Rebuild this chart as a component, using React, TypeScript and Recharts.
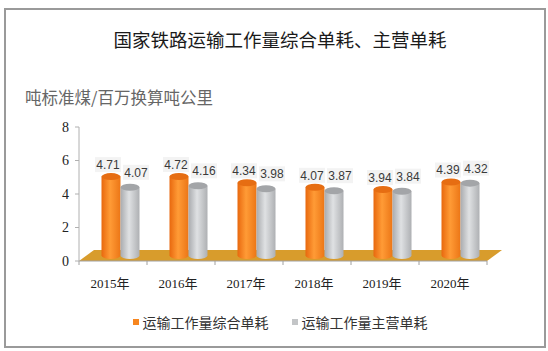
import { BarChart, Bar, XAxis, YAxis, ReferenceArea, LabelList } from "recharts"

// 国家铁路运输工作量综合单耗、主营单耗 (吨标准煤/百万换算吨公里)
const years = ["2015年", "2016年", "2017年", "2018年", "2019年", "2020年"]
const zongheDanhao = [4.71, 4.72, 4.34, 4.07, 3.94, 4.39]
const zhuyingDanhao = [4.07, 4.16, 3.98, 3.87, 3.84, 4.32]
const yTicks = [0, 2, 4, 6, 8]

const data = years.map((year, i) => ({
  year,
  zonghe: zongheDanhao[i],
  zhuying: zhuyingDanhao[i],
}))

const ORANGE = "#f7861f"
const GRAY = "#c3c5c7"
const DEPTH_X = 15
const DEPTH_Y = 11

function Cylinder(props: any) {
  const { x, y, width, height, kind } = props
  const dx = DEPTH_X / 2
  const dy = DEPTH_Y / 2
  const left = x + dx
  const top = y - dy
  const bottom = y + height - dy
  const rx = width / 2
  const ry = 3.5
  const id = kind === "o" ? "gradO" : "gradG"
  const topFill = kind === "o" ? "#e66d12" : "#a3a5a8"
  return (
    <g>
      <path
        d={`M${left},${top} L${left},${bottom} A${rx},${ry} 0 0 0 ${left + width},${bottom} L${left + width},${top} Z`}
        fill={`url(#${id})`}
      />
      <ellipse cx={left + rx} cy={top} rx={rx} ry={ry} fill={topFill} />
    </g>
  )
}

function Floor(props: any) {
  const { x, y, width, height } = props
  const b = y + height
  return (
    <polygon
      points={`${x},${b} ${x + width},${b} ${x + width + DEPTH_X},${b - DEPTH_Y} ${x + DEPTH_X},${b - DEPTH_Y}`}
      fill="#d89c2c"
    />
  )
}

function makeLabel(dxOff: number, dyOff: number) {
  return (props: any) => {
    const { x, y, width, value } = props
    const cx = x + width / 2 + DEPTH_X / 2 + dxOff
    const cy = y - DEPTH_Y / 2 + dyOff
    const txt = Number(value).toFixed(2)
    return (
      <g>
        <rect x={cx - 13} y={cy - 7.5} width={26} height={15} fill="#f3f3f3" />
        <text x={cx} y={cy + 4.5} textAnchor="middle" fontSize={12} fill="#3a3a3a"
          fontFamily="'Liberation Sans', Arial, sans-serif">
          {txt}
        </text>
      </g>
    )
  }
}

function YearTick(props: any) {
  const { x, y, payload, index, visibleTicksCount, width } = props
  const step = width / visibleTicksCount
  return (
    <g>
      <line x1={x - step / 2} y1={y - 8} x2={x - step / 2} y2={y - 4} stroke="#a0a0a0" />
      {index === visibleTicksCount - 1 && (
        <line x1={x + step / 2} y1={y - 8} x2={x + step / 2} y2={y - 4} stroke="#a0a0a0" />
      )}
      <text x={x - 3} y={y + 19} textAnchor="middle" fontSize={13} fill="#222"
        fontFamily="'Liberation Serif', 'Noto Sans CJK SC', serif">
        {payload.value}
      </text>
    </g>
  )
}

const legendItems = [
  { label: "运输工作量综合单耗", color: ORANGE },
  { label: "运输工作量主营单耗", color: GRAY },
]

export default function App() {
  return (
    <div style={{ position: "absolute", left: 0, top: 0, width: 548, height: 351, background: "#fff" }}>
      <div
        style={{
          position: "absolute", left: 4, top: 8, width: 538, height: 336,
          border: "2px solid #9a9a9a", boxSizing: "content-box",
        }}
      />
      <div
        style={{
          position: "absolute", left: 0, top: 27, width: 560, textAlign: "center",
          fontSize: 18.5, color: "#1a1a1a", fontFamily: "'Noto Sans CJK SC', sans-serif", lineHeight: "24px",
        }}
      >
        国家铁路运输工作量综合单耗、主营单耗
      </div>
      <div
        style={{
          position: "absolute", left: 25, top: 87, fontSize: 16.5, color: "#666",
          fontFamily: "'Noto Sans CJK SC', sans-serif", lineHeight: "20px",
        }}
      >
        吨标准煤/百万换算吨公里
      </div>
      <div style={{ position: "absolute", left: 0, top: 0 }}>
        <svg width={0} height={0} style={{ position: "absolute" }}>
          <defs>
            <linearGradient id="gradO" x1="0" y1="0" x2="1" y2="0">
              <stop offset="0%" stopColor="#e8680e" />
              <stop offset="45%" stopColor="#ff9b36" />
              <stop offset="100%" stopColor="#ec7616" />
            </linearGradient>
            <linearGradient id="gradG" x1="0" y1="0" x2="1" y2="0">
              <stop offset="0%" stopColor="#a9abae" />
              <stop offset="45%" stopColor="#dfe1e3" />
              <stop offset="100%" stopColor="#aeb0b3" />
            </linearGradient>
          </defs>
        </svg>
        <BarChart
          width={548}
          height={351}
          data={data}
          margin={{ top: 127, right: 61, bottom: 50, left: 39 }}
          barSize={19}
          barGap={0}
        >
          <XAxis
            dataKey="year"
            axisLine={{ stroke: "#a0a0a0" }}
            tickLine={false}
            tick={<YearTick />}
            interval={0}
            height={40}
          />
          <YAxis
            domain={[0, 8]}
            ticks={yTicks}
            width={40}
            tickSize={4}
            axisLine={{ stroke: "#b0b0b0" }}
            tickLine={{ stroke: "#b0b0b0" }}
            tick={{ fontSize: 14, fill: "#222", fontFamily: "'Liberation Serif', serif" }}
            tickMargin={6}
          />
          <ReferenceArea y1={0} y2={0.66} shape={<Floor />} ifOverflow="visible" />
          <Bar dataKey="zonghe" name="运输工作量综合单耗" fill={ORANGE} isAnimationActive={false}
            shape={(p: any) => <Cylinder {...p} kind="o" />}>
            <LabelList dataKey="zonghe" content={makeLabel(-3, -12)} />
          </Bar>
          <Bar dataKey="zhuying" name="运输工作量主营单耗" fill={GRAY} isAnimationActive={false}
            shape={(p: any) => <Cylinder {...p} kind="g" />}>
            <LabelList dataKey="zhuying" content={makeLabel(6, -15)} />
          </Bar>
        </BarChart>
      </div>
      <div
        style={{
          position: "absolute", top: 314, left: 6, width: 548,
          display: "flex", justifyContent: "center", gap: 23,
        }}
      >
        {legendItems.map((it) => (
          <div key={it.label} style={{ display: "flex", alignItems: "center" }}>
            <span style={{ width: 6, height: 6, background: it.color, marginRight: 4, display: "inline-block" }} />
            <span style={{ fontSize: 14, color: "#333", fontFamily: "'Noto Sans CJK SC', sans-serif", lineHeight: "16px" }}>
              {it.label}
            </span>
          </div>
        ))}
      </div>
    </div>
  )
}
